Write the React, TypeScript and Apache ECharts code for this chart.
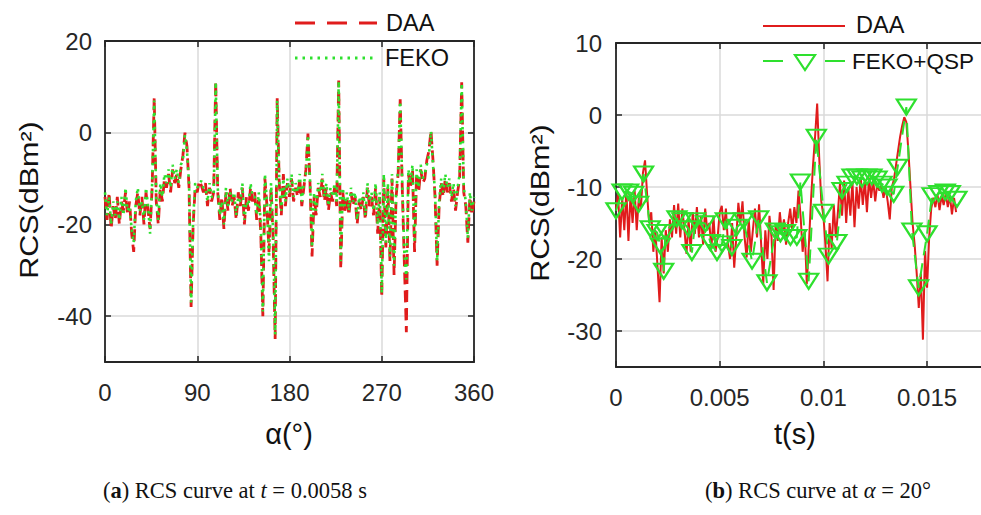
import React, { useEffect, useRef } from 'react';
import * as echarts from 'echarts';

// ---------- Panel (a): RCS vs aspect angle alpha (deg), sampled every 2 deg ----------
const ALPHA_STEP_DEG = 2;
const daaAlpha = [
  -14, -19, -13, -21, -16, -19, -14, -20, -15, -17,
  -13, -18, -15, -22, -26, -16, -13, -18, -14, -20,
  -13, -17, -21, -12, 7.6, -15, -20, -12, -15, -10,
  -12, -9, -13, -8, -11, -9, -12, -8, -5, 0,
  -3, -12, -38, -20, -12, -13, -10.5, -11.5, -13, -11,
  -16, -12, -15, -13, 11.3, -13, -19, -14, -21, -13,
  -17, -12, -16, -14, -19, -13, -16, -12, -20, -14,
  -17, -12, -15, -13, -19, -14, -22, -40, -10, -16,
  -26, -12, -23, -45, 7.5, -11, -18, -9, -16, -11,
  -14, -10, -15, -12, -14, -10, -16, -12, -8, -0.2,
  -11, -27, -14, -18, -12, -14, -10, -15, -12, -17,
  -13, -15, -12, -16, 11.4, -29.7, -13, -17, -14, -18,
  -13, -16, -14, -20, -15, -17, -14, -19, -12, -16,
  -14, -18, -12, -22, -14, -35.9, -10, -25, -12, -28,
  -10, -31, -14, -9, 7.3, -12, -28, -43.5, -9, -12,
  -8, -26, -9, -13, -8, -11, -10, -6, -4, 0.5,
  -6, -14, -29, -16, -11, -14, -10, -13, -11, -15,
  -12, -17, -13, -10, 11, -13, -16, -24, -14, -18,
  -15,
];
const fekoAlpha = [
  -13, -18, -14, -20, -15, -18, -15, -19, -14, -18,
  -12, -17, -16, -21, -24, -15, -12, -17, -15, -19,
  -12, -16, -22, -11, 7, -14, -19, -11, -14, -9,
  -11, -8, -12, -7, -10, -8, -11, -7, -6, -0.5,
  -4, -11, -37, -19, -11, -12, -11, -10.5, -12, -12,
  -15, -11, -14, -14, 11, -12, -18, -15, -20, -12,
  -16, -13, -15, -13, -18, -14, -15, -11, -19, -15,
  -16, -11, -14, -14, -18, -13, -20, -39, -9, -15,
  -28, -11, -21, -44, 7, -10, -17, -10, -15, -10,
  -13, -9, -14, -11, -13, -9, -15, -11, -9, -0.5,
  -10, -25, -13, -17, -11, -13, -9, -14, -11, -16,
  -12, -14, -11, -15, 11.2, -28, -12, -16, -13, -17,
  -12, -15, -13, -19, -14, -16, -13, -18, -11, -15,
  -13, -17, -11, -20, -13, -35, -9, -24, -11, -27,
  -9, -29, -13, -8, 6.8, -11, -26, -32, -8, -11,
  -7, -24, -8, -12, -7, -10, -9, -7, -5, 0.3,
  -7, -13, -28, -15, -10, -13, -9, -12, -10, -14,
  -11, -16, -12, -9, 10.8, -12, -15, -23, -13, -17,
  -14,
];
const alphaTicks = [0, 90, 180, 270, 360];
const rcsTicksA = [-40, -20, 0, 20];

// ---------- Panel (b): RCS vs time t (s) ----------
const DAA_T_STEP = 0.0001; // DAA sampled every 0.1 ms
const daaTime = [
  -13, -11, -17, -11.5, -16, -10.5, -17.5, -11, -15, -10.5,
  -16, -11.5, -13, -8, -6.3, -11, -15, -13.5, -19, -16,
  -21, -26, -17, -22, -16, -19, -14.5, -17, -12.5, -16.5,
  -12.3, -17, -13, -16, -19.3, -14.5, -19, -13.5, -16.5, -12.8,
  -17, -14, -18, -13, -16, -15, -18.5, -14, -19, -17,
  -13.5, -12.6, -16, -13, -18, -20, -15, -21.2, -17, -12.2,
  -15, -12, -17, -19.8, -14.5, -19, -16, -13, -17, -12.4,
  -18, -23.5, -16, -20, -14, -17, -24.3, -15, -17.5, -13.5,
  -16.5, -14.5, -18, -15, -13, -16, -12.8, -15, -10.5, -14,
  -19, -16, -23.5, -18, -12, -7, -3, 1.6, -6, -12,
  -14, -18, -23.1, -15, -18.5, -12.5, -17, -13.5, -9.5, -14,
  -9.1, -15, -10, -14, -9.2, -15.6, -10, -13, -8.6, -12.5,
  -9, -13.5, -8.7, -11.5, -9, -12, -9.5, -10.5, -9.8, -11.5,
  -10, -12, -14.5, -10, -9, -7, -5, -3, -1.5, -0.3,
  -1, -5, -10, -15, -18, -22, -26.8, -22, -31.2, -18.9,
  -24, -17, -13, -11.5, -12.8, -11, -13.2, -11.2, -12.5, -10.9,
  -12.8, -11.2, -13.8, -11.5, -13.5,
];
const qspT = [
  0, 0.00029, 0.00061, 0.00085, 0.00109, 0.00133, 0.00165, 0.00198, 0.00214, 0.0023,
  0.00238, 0.00294, 0.00318, 0.0035, 0.00366, 0.00383, 0.00431, 0.00455, 0.00487, 0.00511,
  0.00527, 0.00559, 0.00583, 0.00615, 0.00656, 0.00688, 0.00728, 0.00768, 0.00793, 0.00817,
  0.00841, 0.00872, 0.00889, 0.00929, 0.00966, 0.01001, 0.01025, 0.01065, 0.0109, 0.01114,
  0.01138, 0.01162, 0.01186, 0.0121, 0.01234, 0.01259, 0.01283, 0.01307, 0.01339, 0.01358,
  0.014, 0.01427, 0.01459, 0.015, 0.01524, 0.01556, 0.01588, 0.01612, 0.01644,
];
const qspV = [
  -13.3, -10.7, -10.7, -11.0, -12.4, -8.2, -15.8, -16.3, -18.2, -21.7,
  -16.3, -14.4, -14.7, -15.8, -19.1, -14.7, -15.1, -17.7, -19.1, -17.9,
  -14.7, -18.4, -15.6, -14.7, -20.3, -14.4, -23.3, -16.1, -16.5, -16.3,
  -17.0, -17.0, -9.3, -23.1, -3.1, -13.5, -19.6, -17.7, -10.5, -9.6,
  -8.6, -8.6, -8.9, -8.6, -8.6, -8.9, -9.6, -10.0, -11.0, -7.25,
  1.1, -16.1, -24.0, -16.5, -11.2, -10.9, -10.7, -10.9, -11.7,
];
const timeTicks = [0, 0.005, 0.01, 0.015];
const rcsTicksB = [-30, -20, -10, 0, 10];
const T_MAX_VISIBLE = 0.0176; // the figure is cropped at the right edge

// ---------- styling ----------
const FONT = "'Liberation Sans', Arial, Helvetica, sans-serif";
const SERIF = "'Liberation Serif', 'Times New Roman', serif";
const INK = '#262626';
const GRIDC = '#dadada';
const RED = '#e01c1c';
const GREEN = '#2ee02e';

const axisLine = { show: true, onZero: false, lineStyle: { color: INK, width: 1.8 } };

function tickStyle(ticks: number[]) {
  return { show: true, inside: true, length: 6, customValues: ticks, lineStyle: { color: INK, width: 1.5 } };
}

function makeAxes(
  kind: 'x' | 'y',
  gridIndex: number,
  min: number,
  max: number,
  ticks: number[],
  fmt: (v: number) => string,
  margin: number,
  showMirror = true
) {
  const main: any = {
    type: 'value',
    gridIndex,
    position: kind === 'x' ? 'bottom' : 'left',
    min,
    max,
    axisLine,
    axisTick: tickStyle(ticks),
    axisLabel: {
      show: true,
      customValues: ticks,
      color: INK,
      fontSize: 24,
      fontFamily: FONT,
      margin,
      formatter: fmt,
    },
    splitLine: { show: true, lineStyle: { color: GRIDC, width: 1.5 } },
  };
  const mirror: any = {
    type: 'value',
    gridIndex,
    show: showMirror,
    position: kind === 'x' ? 'top' : 'right',
    min,
    max,
    axisLine,
    axisTick: tickStyle(ticks),
    axisLabel: { show: false },
    splitLine: { show: false },
  };
  return [main, mirror];
}

function txt(x: number, y: number, text: string, size: number, extra: any = {}) {
  return {
    type: 'text',
    x,
    y,
    z: 100,
    ...extra,
    style: {
      text,
      fontSize: size,
      fontFamily: FONT,
      fill: '#111',
      textAlign: extra.align || 'left',
      align: extra.align || 'left',
      textVerticalAlign: 'middle',
      verticalAlign: 'middle',
    },
  };
}

function buildOption(): any {
  const fmtNum = (v: number) => String(+v.toFixed(4));
  const xA = makeAxes('x', 0, 0, 360, alphaTicks, fmtNum, 18);
  const yA = makeAxes('y', 0, -50, 20, rcsTicksA, fmtNum, 13);
  const xB = makeAxes('x', 1, 0, T_MAX_VISIBLE, timeTicks, fmtNum, 18);
  const yB = makeAxes('y', 1, -35, 10, rcsTicksB, fmtNum, 14, false);

  const CAP = 22.5;
  const richCap = (s: any) => ({ fontSize: CAP, fontFamily: SERIF, fill: '#111', ...s });

  return {
    animation: false,
    backgroundColor: '#ffffff',
    grid: [
      { left: 105, top: 41, width: 369, height: 321 },
      { left: 616, top: 43, width: 365, height: 324 },
    ],
    xAxis: [...xA, ...xB],
    yAxis: [...yA, ...yB],
    series: [
      {
        name: 'DAA',
        type: 'line',
        xAxisIndex: 0,
        yAxisIndex: 0,
        symbol: 'none',
        z: 3,
        data: daaAlpha.map((v, i) => [i * ALPHA_STEP_DEG, v]),
        lineStyle: { color: RED, width: 2.8, type: [12, 6] },
      },
      {
        name: 'FEKO',
        type: 'line',
        xAxisIndex: 0,
        yAxisIndex: 0,
        symbol: 'none',
        z: 4,
        data: fekoAlpha.map((v, i) => [i * ALPHA_STEP_DEG, v]),
        lineStyle: { color: GREEN, width: 2.6, type: [2.5, 4.5] },
      },
      {
        name: 'DAA',
        type: 'line',
        xAxisIndex: 2,
        yAxisIndex: 2,
        symbol: 'none',
        z: 3,
        data: daaTime.map((v, i) => [i * DAA_T_STEP, v]),
        lineStyle: { color: RED, width: 2 },
      },
      {
        name: 'FEKO+QSP',
        type: 'line',
        xAxisIndex: 2,
        yAxisIndex: 2,
        z: 4,
        symbol: 'triangle',
        symbolRotate: 180,
        symbolSize: [19, 15],
        showSymbol: true,
        data: qspT.map((t, i) => [t, qspV[i]]),
        lineStyle: { color: GREEN, width: 2, type: [14, 8] },
        itemStyle: { color: 'rgba(0,0,0,0)', borderColor: GREEN, borderWidth: 2.2 },
      },
    ],
    graphic: [
      // legend (a)
      { type: 'line', z: 100, shape: { x1: 295, y1: 23, x2: 377, y2: 23 }, style: { stroke: RED, lineWidth: 3, lineDash: [20, 12] } },
      txt(386, 23, 'DAA', 23.5),
      { type: 'line', z: 100, shape: { x1: 295, y1: 58, x2: 373, y2: 58 }, style: { stroke: GREEN, lineWidth: 3, lineDash: [2.5, 5] } },
      txt(385, 58, 'FEKO', 23.5),
      // legend (b)
      { type: 'line', z: 100, shape: { x1: 763, y1: 26, x2: 845, y2: 26 }, style: { stroke: RED, lineWidth: 2 } },
      txt(856, 25, 'DAA', 23.5),
      { type: 'line', z: 100, shape: { x1: 763, y1: 61, x2: 845, y2: 61 }, style: { stroke: GREEN, lineWidth: 2, lineDash: [20, 42] } },
      { type: 'polygon', z: 100, shape: { points: [[795, 55], [815, 55], [805, 70]] }, style: { fill: 'none', stroke: GREEN, lineWidth: 2.2 } },
      txt(852, 61, 'FEKO+QSP', 22.5),
      // axis titles
      txt(29, 200, 'RCS(dBm²)', 25, { align: 'center', rotation: Math.PI / 2, scaleX: 1.22 }),
      txt(540, 203, 'RCS(dBm²)', 25, { align: 'center', rotation: Math.PI / 2, scaleX: 1.22 }),
      txt(289, 434, 'α(°)', 29, { align: 'center' }),
      txt(795, 434, 't(s)', 29, { align: 'center' }),
      // captions
      {
        type: 'text',
        x: 103,
        y: 490,
        z: 100,
        style: {
          text: '({b|a}) RCS curve at {i|t} = 0.0058 s',
          fontSize: CAP,
          fontFamily: SERIF,
          fill: '#111',
          textVerticalAlign: 'middle',
          verticalAlign: 'middle',
          rich: { b: richCap({ fontWeight: 'bold' }), i: richCap({ fontStyle: 'italic' }) },
        },
      },
      {
        type: 'text',
        x: 705,
        y: 490,
        z: 100,
        style: {
          text: '({b|b}) RCS curve at {i|α} = 20°',
          fontSize: CAP,
          fontFamily: SERIF,
          fill: '#111',
          textVerticalAlign: 'middle',
          verticalAlign: 'middle',
          rich: { b: richCap({ fontWeight: 'bold' }), i: richCap({ fontStyle: 'italic' }) },
        },
      },
    ],
  };
}

export default function App() {
  const ref = useRef<HTMLDivElement>(null);
  useEffect(() => {
    if (!ref.current) return;
    const chart = echarts.init(ref.current, null, { renderer: 'svg' });
    chart.setOption(buildOption());
    return () => chart.dispose();
  }, []);
  return (
    <div
      ref={ref}
      style={{ position: 'fixed', left: 0, top: 0, width: 981, height: 515, background: '#fff', overflow: 'hidden' }}
    />
  );
}
